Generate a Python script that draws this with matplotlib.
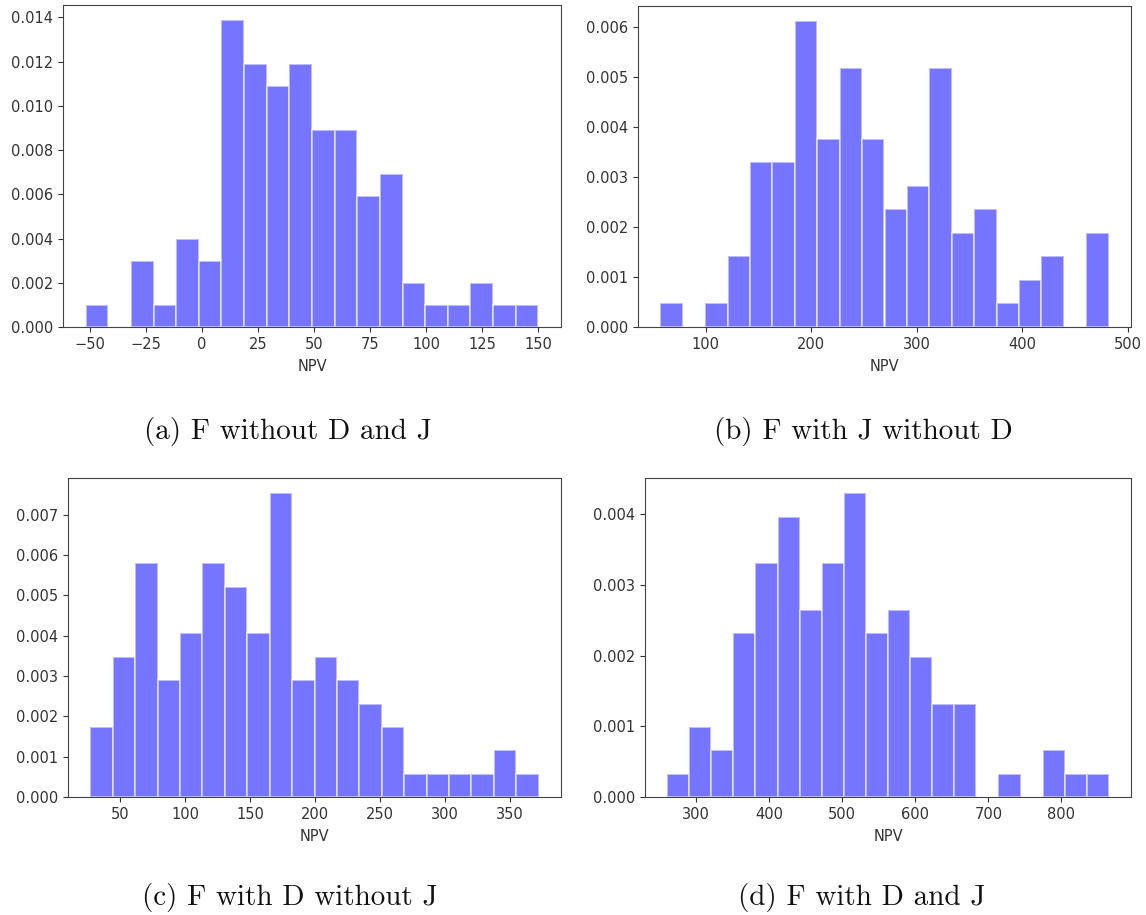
import numpy as np
import matplotlib
matplotlib.use('Agg')
import matplotlib.pyplot as plt

# Histogram data: bin range (lo, hi) and counts per bin (20 bins, 100 samples)
range_a = (-52.0, 150.0)
counts_a = [1, 0, 3, 1, 4, 3, 14, 12, 11, 12, 9, 9, 6, 7, 2, 1, 1, 2, 1, 1]

range_b = (57.2, 481.9)
counts_b = [1, 0, 1, 3, 7, 7, 13, 8, 11, 8, 5, 6, 11, 4, 5, 1, 2, 3, 0, 4]

range_c = (27.0, 372.0)
counts_c = [3, 6, 10, 5, 7, 10, 9, 7, 13, 5, 6, 5, 4, 3, 1, 1, 1, 1, 2, 1]

range_d = (260.5, 865.0)
counts_d = [1, 3, 2, 7, 10, 12, 8, 10, 13, 7, 8, 6, 4, 4, 0, 1, 0, 2, 1, 1]

captions = ["(a) F without D and J", "(b) F with J without D",
            "(c) F with D without J", "(d) F with D and J"]

W, H = 1146, 915
# axes boxes in pixels: left, top, right, bottom
boxes = [(63, 5, 561, 327), (638, 6, 1131, 327),
         (68, 478, 561, 797), (645, 478, 1131, 797)]
caption_pos = [(288, 432), (863, 432), (290, 897), (862, 897)]

ranges = [range_a, range_b, range_c, range_d]
counts = [counts_a, counts_b, counts_c, counts_d]

fig = plt.figure(figsize=(W / 100, H / 100), dpi=100)

for (l, t, r, b), rng, cnt in zip(boxes, ranges, counts):
    ax = fig.add_axes([l / W, 1 - b / H, (r - l) / W, (b - t) / H])
    edges = np.linspace(rng[0], rng[1], len(cnt) + 1)
    ax.hist(edges[:-1], bins=edges, weights=cnt, density=True,
            color='blue', alpha=0.54, edgecolor='white', linewidth=1.4)
    ax.set_xlabel("NPV", fontsize=10.5, color='#333333', labelpad=5)
    ax.tick_params(labelsize=10.5, colors='#333333')
    for s in ax.spines.values():
        s.set_color('#444444')

for (x, y), txt in zip(caption_pos, captions):
    fig.text(x / W, 1 - y / H, txt, fontfamily='cmr10', fontsize=21,
             ha='center', va='center', color='#111111')

plt.savefig("out.png", dpi=100)
